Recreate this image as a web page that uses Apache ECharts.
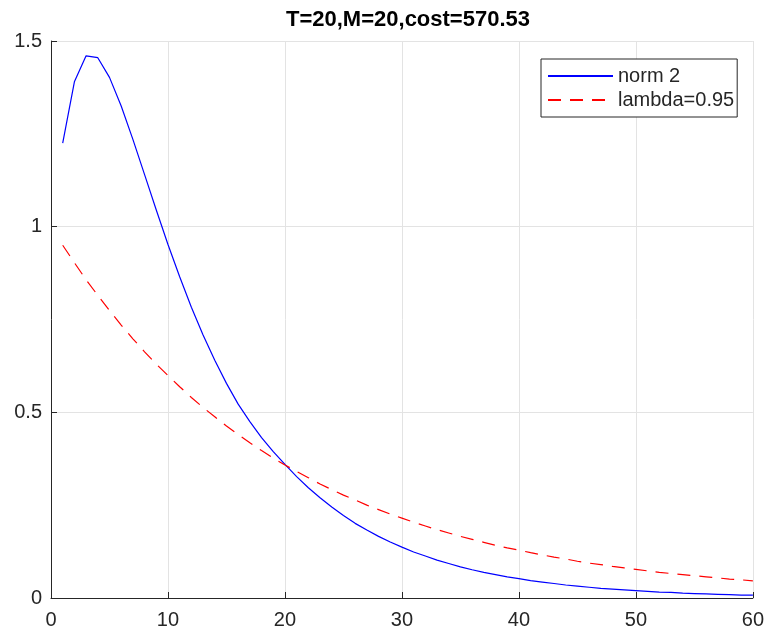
<!DOCTYPE html>
<html lang="en">
<head>
<meta charset="UTF-8">
<title>norm 2 vs lambda</title>
<script src="https://cdn.jsdelivr.net/npm/echarts@6/dist/echarts.min.js"></script>
<style>
  html, body { margin: 0; padding: 0; background: #fff; }
  #main { width: 767px; height: 630px; }
</style>
</head>
<body>
<div id="main"></div>
<script>
// iteration index 1..60
var steps = [];
for (var i = 1; i <= 60; i++) steps.push(i);

// values
var norm2 = [1.225, 1.390, 1.460, 1.455, 1.402, 1.325, 1.235, 1.140, 1.045, 0.952,
             0.865, 0.783, 0.708, 0.640, 0.578, 0.522, 0.475, 0.432, 0.394, 0.360,
             0.327, 0.297, 0.270, 0.245, 0.222, 0.201, 0.183, 0.166, 0.151, 0.137,
             0.124, 0.113, 0.102, 0.093, 0.084, 0.076, 0.069, 0.063, 0.057, 0.052,
             0.047, 0.043, 0.039, 0.035, 0.032, 0.029, 0.026, 0.024, 0.022, 0.020,
             0.018, 0.016, 0.015, 0.013, 0.012, 0.011, 0.010, 0.009, 0.008, 0.0075];
var lambda = [0.950, 0.903, 0.857, 0.815, 0.774, 0.735, 0.698, 0.663, 0.630, 0.599,
              0.569, 0.540, 0.513, 0.488, 0.463, 0.440, 0.418, 0.397, 0.377, 0.358,
              0.341, 0.324, 0.307, 0.292, 0.277, 0.264, 0.250, 0.238, 0.226, 0.215,
              0.204, 0.194, 0.184, 0.175, 0.166, 0.158, 0.150, 0.142, 0.135, 0.129,
              0.122, 0.116, 0.110, 0.105, 0.099, 0.094, 0.090, 0.085, 0.081, 0.077,
              0.073, 0.069, 0.066, 0.063, 0.060, 0.057, 0.054, 0.051, 0.049, 0.046];

var chartTitle = 'T=20,M=20,cost=570.53';
var seriesNames = ['norm 2', 'lambda=0.95'];

function pairs(xs, ys) {
    var out = [];
    for (var i = 0; i < xs.length; i++) out.push([xs[i], ys[i]]);
    return out;
}

var font = 'Liberation Sans, Arial, sans-serif';
var axisColor = '#262626';
var gridColor = '#e3e3e3';

var chart = echarts.init(document.getElementById('main'));
var option = {
    backgroundColor: '#fff',
    animation: false,
    title: {
        text: chartTitle,
        left: 403,
        textAlign: 'center',
        top: 4,
        textStyle: { fontFamily: font, fontSize: 22, fontWeight: 'bold', color: '#000' }
    },
    legend: {
        orient: 'vertical',
        left: 541,
        top: 59,
        padding: [7, 3, 7, 6],
        itemGap: 4,
        itemWidth: 65,
        itemHeight: 14,
        borderColor: axisColor,
        borderWidth: 1,
        borderRadius: 0,
        backgroundColor: '#fff',
        itemStyle: { opacity: 0 },
        textStyle: { fontFamily: font, fontSize: 20, color: axisColor },
        data: seriesNames
    },
    grid: { left: 51, right: 12, top: 41, bottom: 32, containLabel: false },
    xAxis: {
        type: 'value',
        min: 0, max: 60, interval: 10,
        axisLine: { show: true, onZero: false, lineStyle: { color: axisColor, width: 1 } },
        axisTick: { show: true, inside: true, length: 6, lineStyle: { color: axisColor } },
        axisLabel: { fontFamily: font, fontSize: 20, color: axisColor, margin: 12 },
        splitLine: { show: true, lineStyle: { color: gridColor, width: 1 } }
    },
    yAxis: {
        type: 'value',
        min: 0, max: 1.5, interval: 0.5,
        axisLine: { show: true, onZero: false, lineStyle: { color: axisColor, width: 1 } },
        axisTick: { show: true, inside: true, length: 6, lineStyle: { color: axisColor } },
        axisLabel: { fontFamily: font, fontSize: 20, color: axisColor, margin: 9 },
        splitLine: { show: true, lineStyle: { color: gridColor, width: 1 } }
    },
    series: [
        {
            name: seriesNames[0],
            type: 'line',
            data: pairs(steps, norm2),
            symbol: 'none',
            smooth: false,
            lineStyle: { color: '#0000ff', width: 1.2 },
            itemStyle: { color: '#0000ff' }
        },
        {
            name: seriesNames[1],
            type: 'line',
            data: pairs(steps, lambda),
            symbol: 'none',
            smooth: false,
            lineStyle: { color: '#ff0000', width: 1.2, type: [13, 9] },
            itemStyle: { color: '#ff0000' }
        }
    ]
};
chart.setOption(option);
</script>
</body>
</html>
